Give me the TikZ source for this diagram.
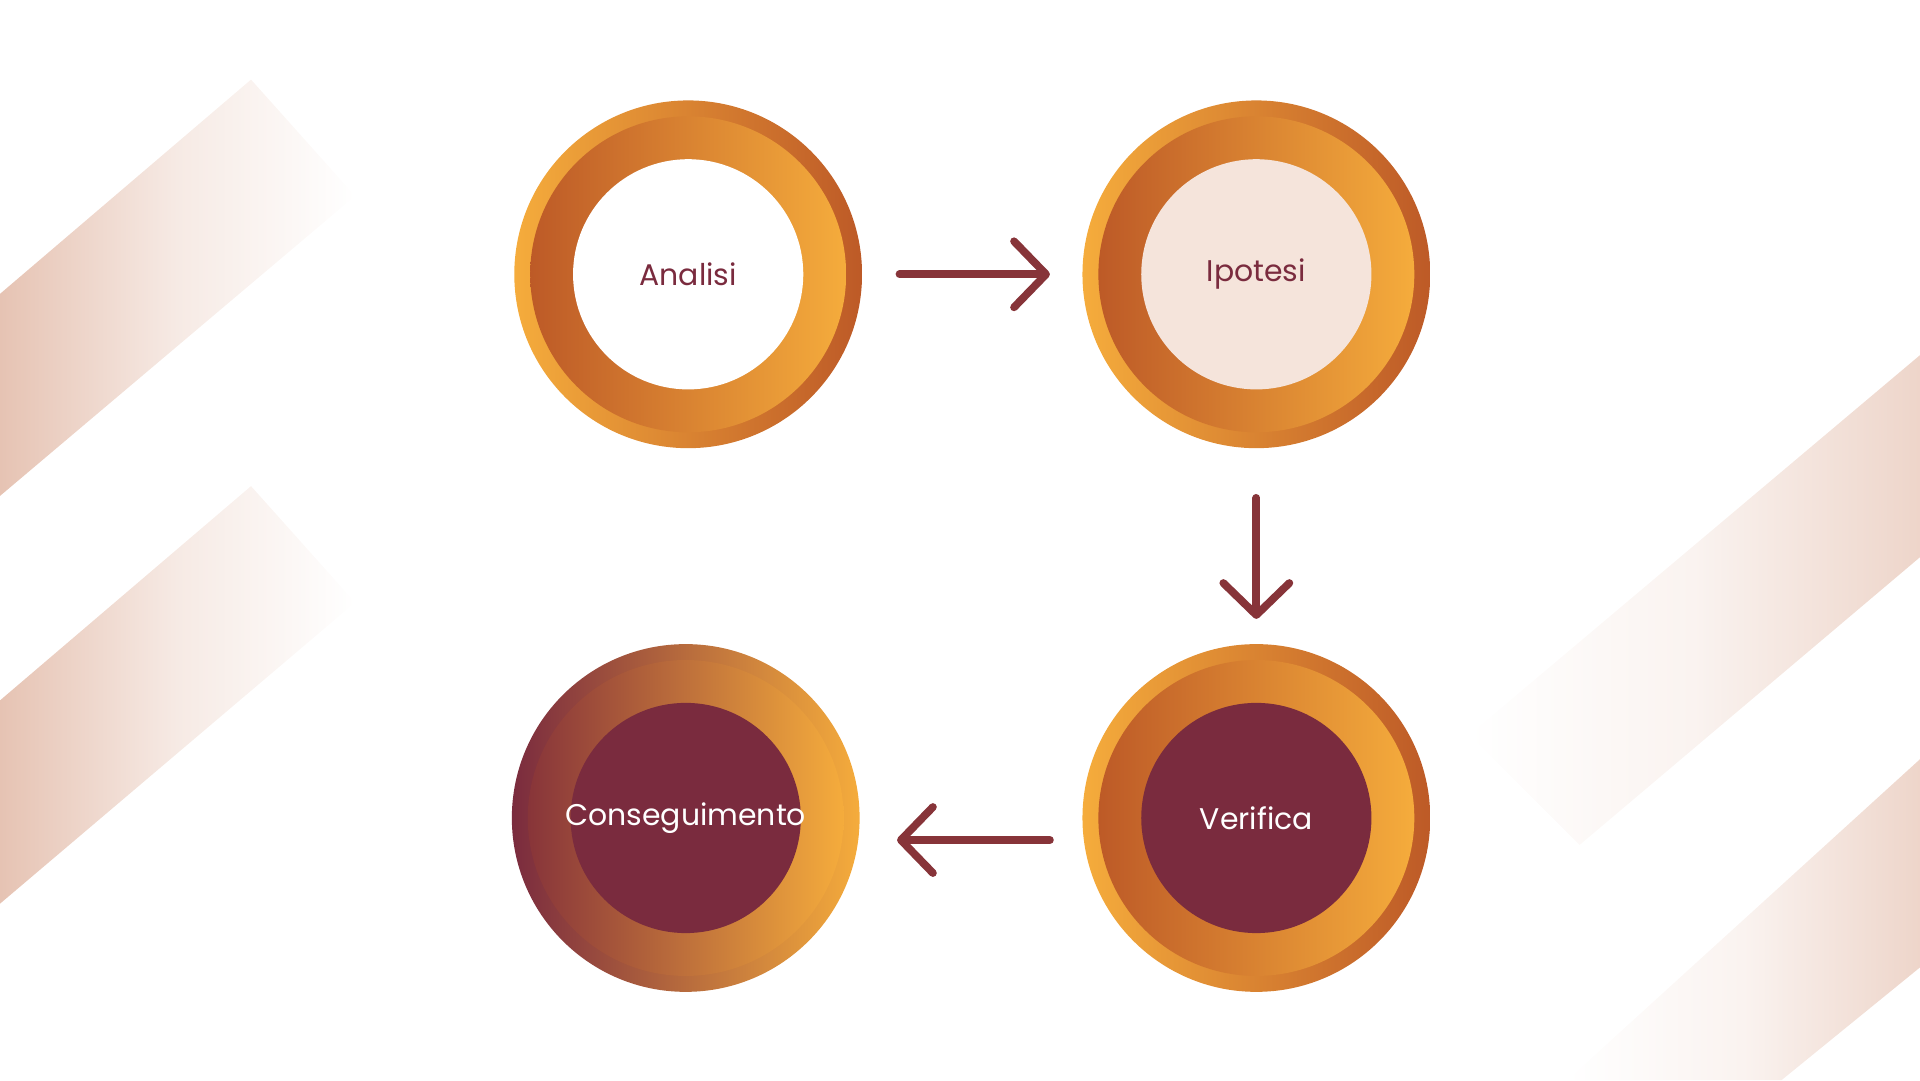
\documentclass[tikz,border=0pt]{standalone}
\usepackage{fontspec}
\setmainfont{Poppins}
\usetikzlibrary{arrows.meta}
\definecolor{ochre}{HTML}{F5AC3C}
\definecolor{rust}{HTML}{BD5A27}
\definecolor{wine}{HTML}{7A2B3E}
\definecolor{peach}{HTML}{F5E4DB}
\definecolor{stripe}{HTML}{E6C3B3}
\tikzset{
  ring/.style={circle, minimum size=284*0.012245cm, inner sep=0pt},
  band/.style={circle, minimum size=258*0.012245cm, inner sep=0pt},
  core/.style={circle, minimum size=188*0.012245cm, inner sep=0pt},
  tag/.style={font=\fontsize{8.5}{10}\selectfont, inner sep=0pt},
  flow/.style={line width=2.2pt, color=wine!80!rust, line cap=round,
    -{Straight Barb[length=3.2mm, width=6.6mm, line cap=round, line join=round]}},
}
\begin{document}
\begin{tikzpicture}[x=0.012245cm, y=-0.012245cm]
    \useasboundingbox (0,0) rectangle (1568,882);
    % faded stripes
    \shade[left color=stripe, right color=white, middle color=stripe!35] (0,240) -- (205,65) -- (290,160) -- (0,405) -- cycle;
    \shade[left color=stripe, right color=white, middle color=stripe!35] (0,572) -- (205,397) -- (290,492) -- (0,738) -- cycle;
    \shade[left color=white, right color=stripe!70, middle color=stripe!20] (1568,290) -- (1568,455) -- (1290,690) -- (1200,600) -- cycle;
    \shade[left color=white, right color=stripe!70, middle color=stripe!20] (1568,620) -- (1568,790) -- (1455,882) -- (1280,882) -- cycle;

    % circles
    \node[ring, left color=ochre, right color=rust] (ra) at (562,224) {};
    \node[band, left color=rust, right color=ochre] at (562,224) {};
    \node[core, fill=white] (a) at (562,224) {};
    \node[tag, text=wine] (ta) at (a) {Analisi};

    \node[ring, left color=ochre, right color=rust] (rb) at (1026,224) {};
    \node[band, left color=rust, right color=ochre] at (1026,224) {};
    \node[core, fill=peach] (b) at (1026,224) {};
    \node[tag, text=wine] (tb) at (b) {Ipotesi};

    \node[ring, left color=ochre, right color=rust] (rc) at (1026,668) {};
    \node[band, left color=rust, right color=ochre] at (1026,668) {};
    \node[core, fill=wine] (c) at (1026,668) {};
    \node[tag, text=white] (tc) at (c) {Verifica};

    \node[ring, left color=wine, right color=ochre] (rd) at (560,668) {};
    \node[band, left color=wine!80!rust, right color=ochre] at (560,668) {};
    \node[core, fill=wine] (d) at (560,668) {};
    \node[tag, text=white] (td) at (d) {Conseguimento};

    % arrows
    \draw[flow] ([xshift=30*0.012245cm]ra.east) -- ([xshift=-26*0.012245cm]rb.west);
    \draw[flow] ([yshift=-40*0.012245cm]rb.south) -- ([yshift=20*0.012245cm]rc.north);
    \draw[flow] ([shift={(-26*0.012245cm,-18*0.012245cm)}]rc.west) -- ([shift={(30*0.012245cm,-18*0.012245cm)}]rd.east);
\end{tikzpicture}
\end{document}
